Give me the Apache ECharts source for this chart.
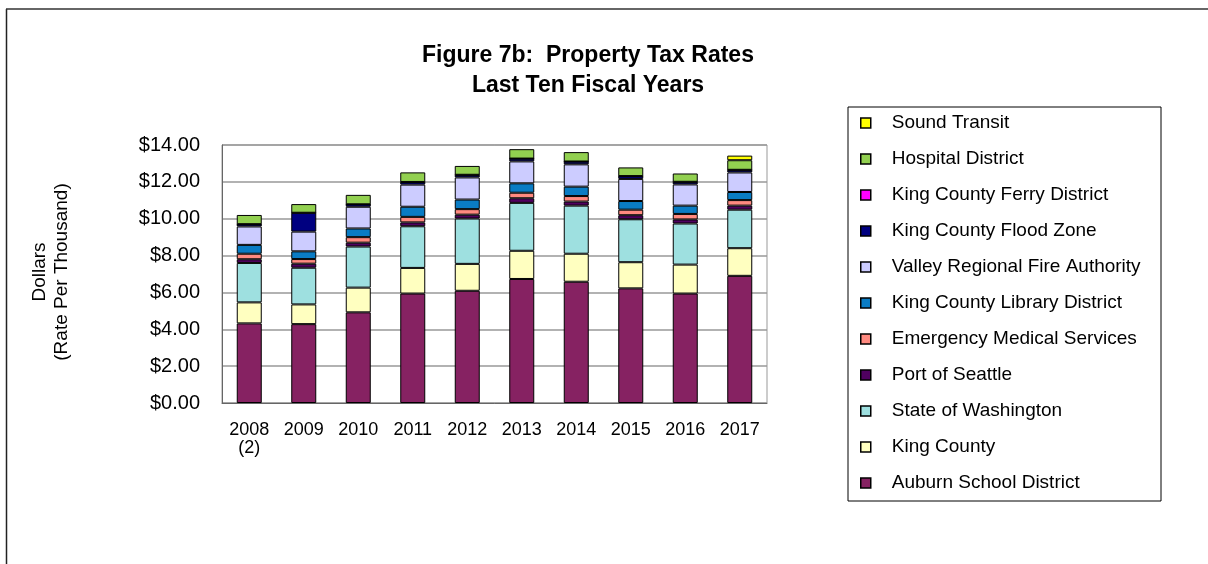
<!DOCTYPE html>
<html>
<head>
<meta charset="utf-8">
<script src="https://cdn.jsdelivr.net/npm/echarts@6/dist/echarts.min.js"></script>
<style>
html,body{margin:0;padding:0;background:#fff;}
#c{width:1208px;height:564px;}
</style>
</head>
<body>
<div id="c"></div>
<script>
const years = ['2008\n(2)', '2009', '2010', '2011', '2012', '2013', '2014', '2015', '2016', '2017'];
const yTicks = [0, 2, 4, 6, 8, 10, 12, 14];

const auburnSchool   = [4.32, 4.28, 4.92, 5.94, 6.09, 6.73, 6.58, 6.22, 5.94, 6.90];
const kingCounty     = [1.14, 1.07, 1.34, 1.39, 1.46, 1.53, 1.52, 1.42, 1.57, 1.50];
const stateWA        = [2.14, 1.99, 2.23, 2.26, 2.46, 2.60, 2.61, 2.33, 2.23, 2.09];
const portSeattle    = [0.20, 0.22, 0.21, 0.21, 0.21, 0.25, 0.22, 0.22, 0.22, 0.22];
const ems            = [0.30, 0.25, 0.30, 0.30, 0.30, 0.30, 0.30, 0.30, 0.30, 0.30];
const library        = [0.48, 0.42, 0.47, 0.55, 0.52, 0.51, 0.51, 0.47, 0.45, 0.44];
const fireAuthority  = [1.00, 1.07, 1.18, 1.20, 1.20, 1.19, 1.21, 1.20, 1.15, 1.06];
const floodZone      = [0.12, 1.02, 0.13, 0.14, 0.14, 0.15, 0.15, 0.15, 0.14, 0.14];
const ferryDistrict  = [0.004, 0.004, 0.004, 0.004, 0.004, 0.004, 0.004, 0.004, 0.004, 0.004];
const hospital       = [0.50, 0.47, 0.51, 0.52, 0.48, 0.51, 0.51, 0.47, 0.45, 0.52];
const soundTransit   = [null, null, null, null, null, null, null, null, null, 0.25];

const seriesDefs = [
  ['Auburn School District', auburnSchool, '#862262'],
  ['King County', kingCounty, '#FFFFC0'],
  ['State of Washington', stateWA, '#9EE0E0'],
  ['Port of Seattle', portSeattle, '#500060'],
  ['Emergency Medical Services', ems, '#FF8A80'],
  ['King County Library District', library, '#0A7CC4'],
  ['Valley Regional Fire Authority', fireAuthority, '#CCCCFF'],
  ['King County Flood Zone', floodZone, '#000080'],
  ['King County Ferry District', ferryDistrict, '#FF00FF'],
  ['Hospital District', hospital, '#92D050'],
  ['Sound Transit', soundTransit, '#FFFF00']
];

const FONT = 'Arial, "Liberation Sans", sans-serif';
const chart = echarts.init(document.getElementById('c'));

chart.setOption({
  animation: false,
  backgroundColor: '#fff',
  textStyle: { fontFamily: FONT, color: '#000' },
  title: {
    text: 'Figure 7b:  Property Tax Rates\nLast Ten Fiscal Years',
    left: 583, top: 36, textAlign: 'center',
    textStyle: { fontFamily: FONT, fontSize: 23, fontWeight: 'bold', color: '#000', lineHeight: 30 }
  },
  grid: {
    left: 222, top: 145, width: 545, height: 258,
    show: true, borderColor: '#999', borderWidth: 1, backgroundColor: '#fff'
  },
  legend: {
    orient: 'vertical', left: 860, top: 113, padding: 0,
    itemWidth: 10, itemHeight: 10, itemGap: 16,
    icon: 'rect',
    data: seriesDefs.map(d => d[0]).slice().reverse(),
    textStyle: { fontFamily: FONT, fontSize: 19, lineHeight: 20, color: '#000', padding: [0, 0, 0, 16] },
    itemStyle: { borderColor: '#000', borderWidth: 1.5 }
  },
  xAxis: {
    type: 'category', data: years,
    axisLine: { lineStyle: { color: '#666' } },
    axisTick: { show: false },
    axisLabel: { fontFamily: FONT, fontSize: 18, color: '#000', margin: 18, lineHeight: 18 }
  },
  yAxis: {
    type: 'value', min: yTicks[0], max: yTicks[yTicks.length - 1], interval: 2,
    axisLine: { show: true, lineStyle: { color: '#666' } },
    axisTick: { show: false },
    splitLine: { lineStyle: { color: '#999', width: 1.5 } },
    axisLabel: { fontFamily: FONT, fontSize: 20, color: '#000', margin: 22,
      formatter: v => '$' + v.toFixed(2) }
  },
  graphic: [
    { type: 'line', shape: { x1: 6.5, y1: 9, x2: 6.5, y2: 570 }, style: { stroke: '#222', lineWidth: 1.5 } },
    { type: 'line', shape: { x1: 6, y1: 9, x2: 1215, y2: 9 }, style: { stroke: '#333', lineWidth: 1.5 } },
    { type: 'rect', shape: { x: 848, y: 107, width: 313, height: 394 }, style: { fill: 'none', stroke: '#000', lineWidth: 1 } },
    { type: 'text', x: 51, y: 272, rotation: Math.PI / 2,
      style: { text: 'Dollars\n(Rate Per Thousand)', font: '19px ' + FONT, fill: '#000',
        align: 'center', verticalAlign: 'middle', lineHeight: 22 } }
  ],
  series: seriesDefs.map(d => ({
    name: d[0], type: 'bar', stack: 'tax', data: d[1], barWidth: 25,
    itemStyle: { color: d[2], borderColor: '#000', borderWidth: 1 }
  }))
});
</script>
</body>
</html>
